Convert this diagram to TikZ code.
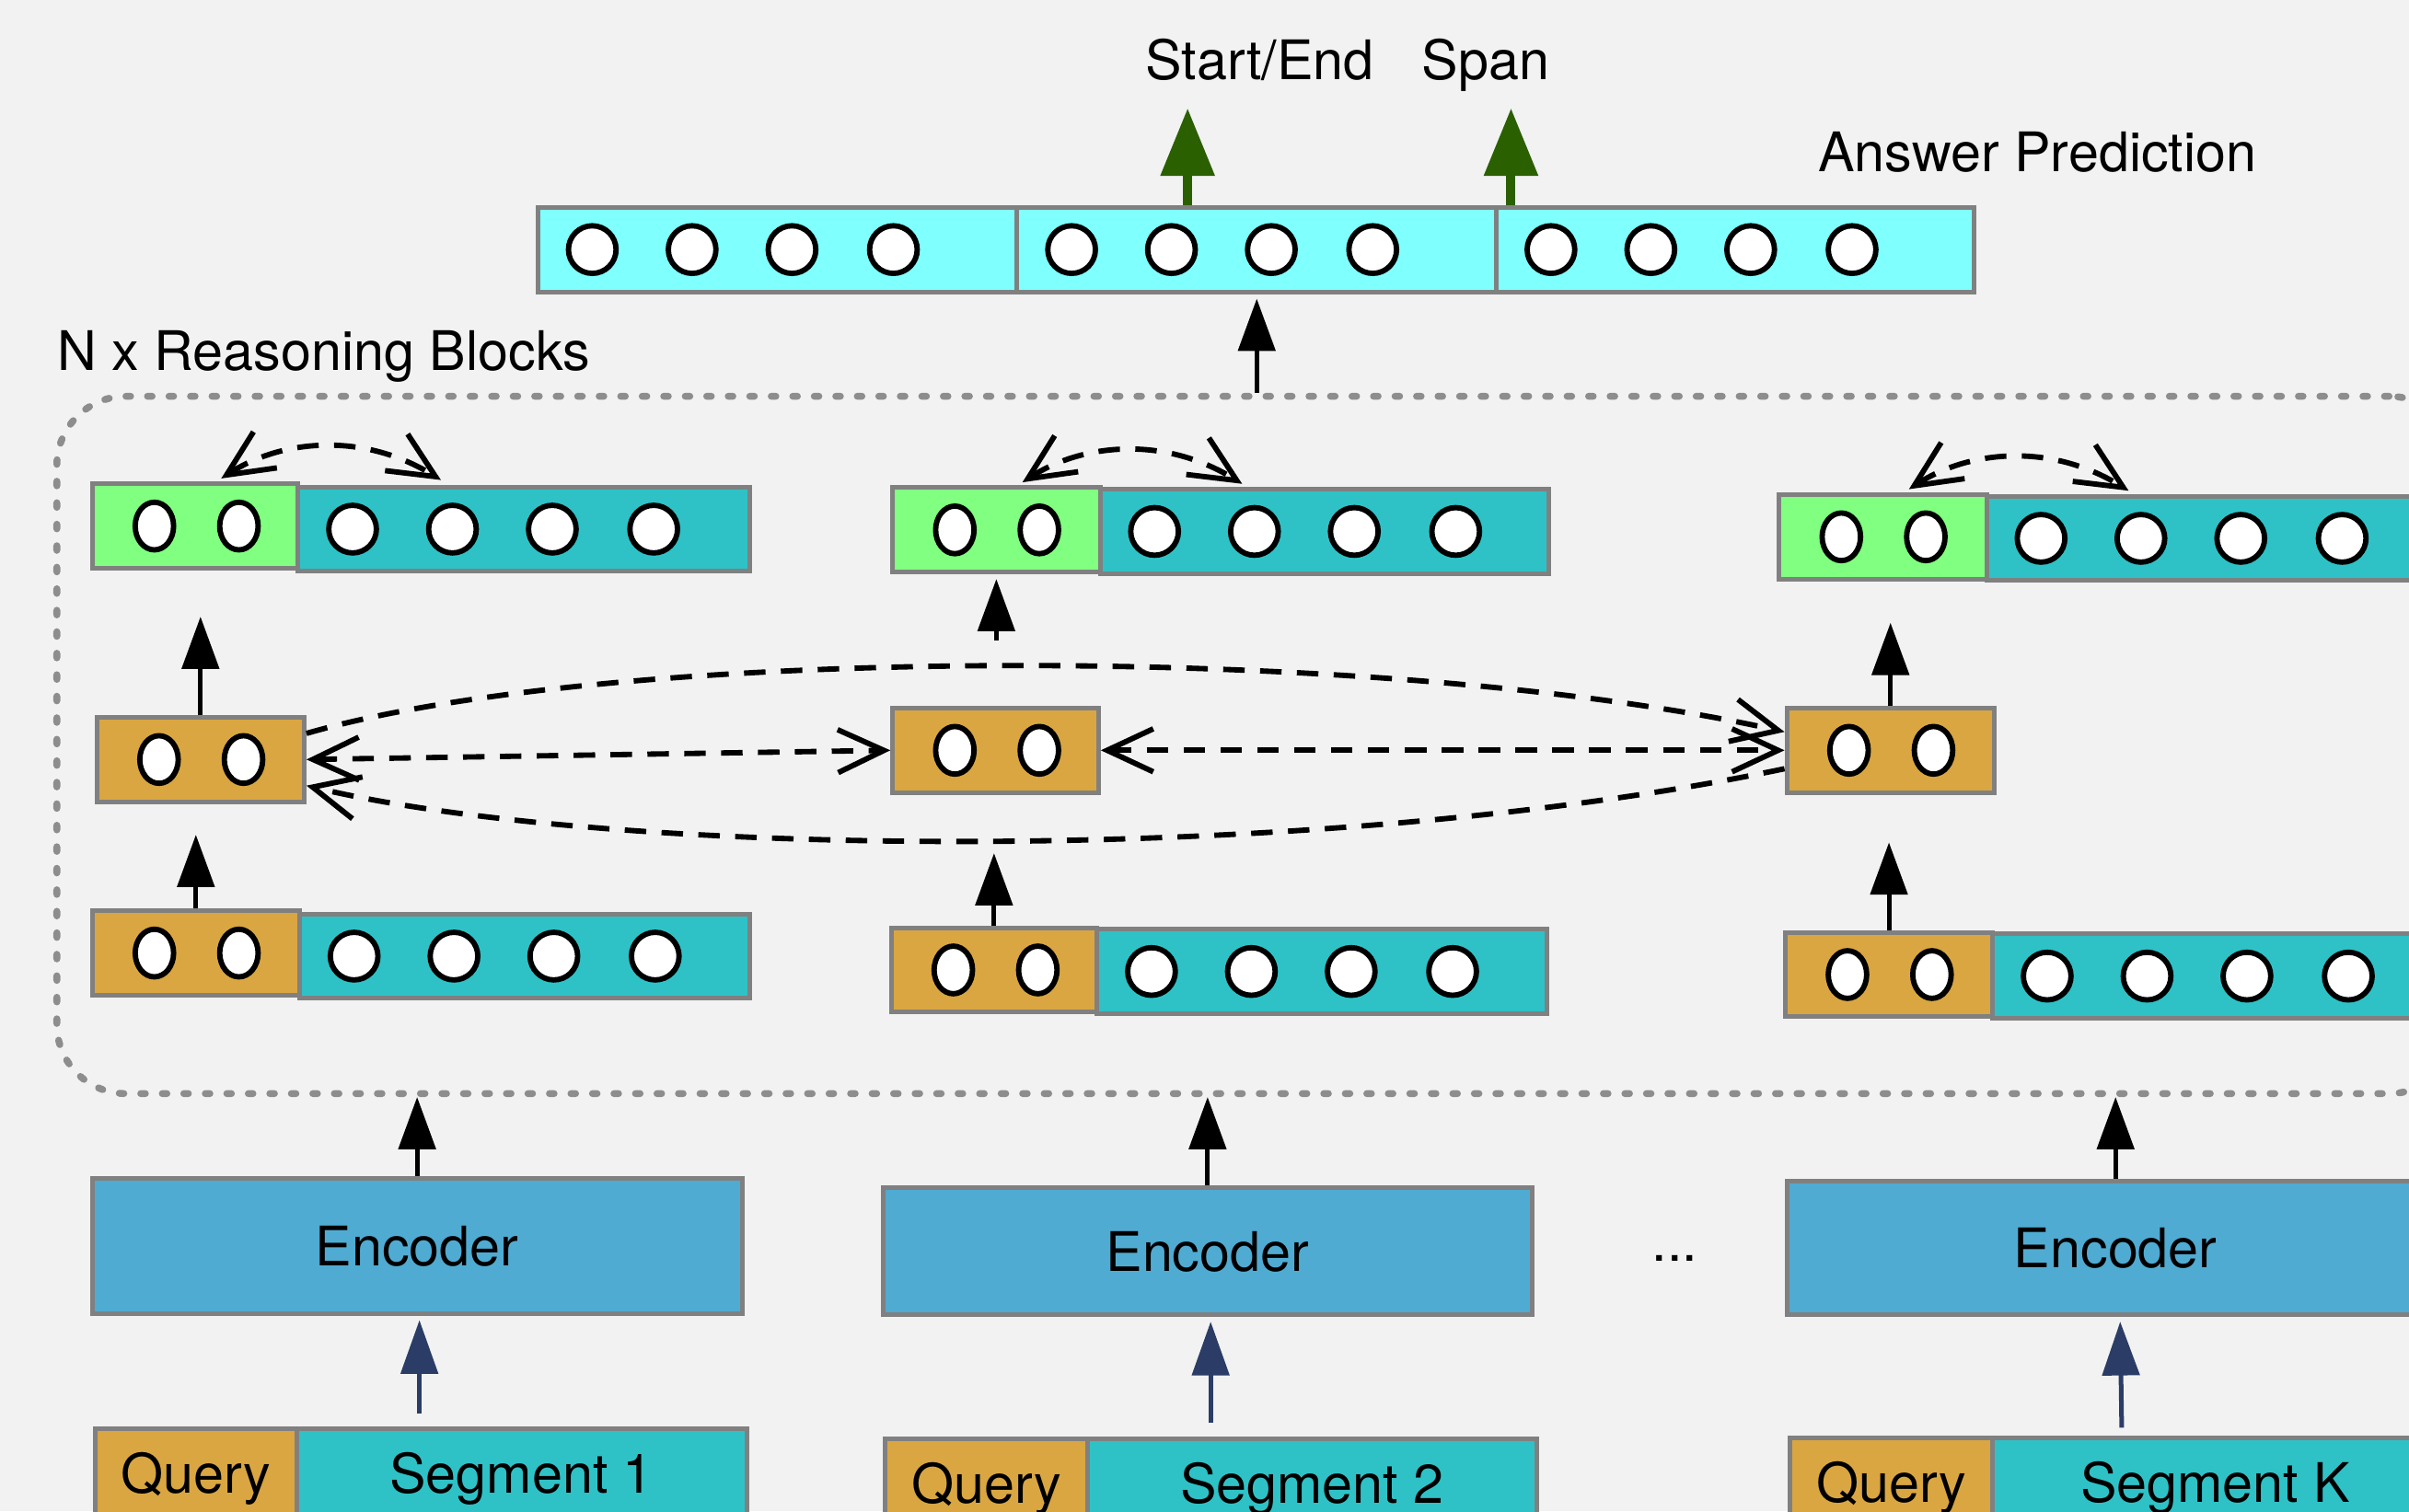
\documentclass[tikz,border=0pt]{standalone}
\usepackage{fontspec}
\setmainfont{TeX Gyre Heros}
\usetikzlibrary{arrows.meta,calc}
\definecolor{bgc}{HTML}{F2F2F2}
\definecolor{cyanbar}{HTML}{80FFFF}
\definecolor{tealc}{HTML}{2EC2C7}
\definecolor{greenc}{HTML}{80FF80}
\definecolor{orangec}{HTML}{D9A642}
\definecolor{encc}{HTML}{50ABD2}
\definecolor{bordc}{HTML}{808080}
\definecolor{arrgreen}{HTML}{2A6000}
\definecolor{navyc}{HTML}{2B3D66}
\newcommand\tokrow[3]{\foreach \o in {#2} {\draw[tok] ($(#1.west)+(\o,0)$) ellipse [x radius=#3, y radius=15.5];}}
\begin{document}
\begin{tikzpicture}[x=1pt,y=-1pt,
  box/.style={draw=bordc, line width=3pt, inner sep=0pt, minimum height=55pt},
  boxtxt/.style={font=\fontsize{35.5}{42}\selectfont, text height=30pt, text depth=4pt},
  lbl/.style={inner sep=0pt, font=\fontsize{35.5}{42}\selectfont},
  tok/.style={draw=black, fill=white, line width=3.5pt},
  blk/.style={line width=3pt, -{Triangle[length=34pt,width=24pt]}},
  nvy/.style={draw=navyc, line width=3pt, -{Triangle[length=35pt,width=24pt]}},
  grn/.style={draw=arrgreen, line width=6pt, -{Triangle[length=44pt,width=34pt]}},
  dsh/.style={line width=3.5pt, dash pattern=on 14pt off 10pt},
  barb/.tip={Straight Barb[length=30pt,width=28pt]}
]
\path[use as bounding box, fill=bgc] (0,0) rectangle (1568,984);
\clip (0,0) rectangle (1568,984);

% reasoning block frame
\node[draw=bordc!90, line width=4.5pt, dash pattern=on 3pt off 11pt, line cap=round,
      rounded corners=45pt, minimum width=1563pt, minimum height=454pt, inner sep=0pt] (rb) at (818.5,485) {};

% answer prediction bar
\node[box, fill=cyanbar, minimum width=312pt] (a1) at (506,162.5) {};
\node[box, fill=cyanbar, minimum width=312pt] (a2) at (818,162.5) {};
\node[box, fill=cyanbar, minimum width=311pt] (a3) at (1129.5,162.5) {};
\tokrow{a1}{37,102,167,233}{15.5}
\tokrow{a2}{37,102,167,233}{15.5}
\tokrow{a3}{37,102,167,233}{15.5}

% labels
\node[lbl, anchor=base] (lse) at (820,52) {Start/End};
\node[lbl, anchor=base] (lsp) at (967,52) {Span};
\node[lbl, anchor=base] (lap) at (1326,112) {Answer Prediction};
\node[lbl, anchor=base west] (lnr) at (37,241) {N x Reasoning Blocks};

% top rows
\node[box, fill=greenc, minimum width=134pt] (g1) at (127,342.5) {};
\node[box, fill=tealc, minimum width=294pt] (t1) at (341,344.5) {};
\node[box, fill=greenc, minimum width=135pt] (g2) at (648.5,345) {};
\node[box, fill=tealc, minimum width=292pt] (t2) at (862,346) {};
\node[box, fill=greenc, minimum width=135pt] (g3) at (1225.5,349.5) {};
\node[box, fill=tealc, minimum width=294pt] (t3) at (1440,350.5) {};
% middle
\node[box, fill=orangec, minimum width=135pt] (m1) at (130.5,494.5) {};
\node[box, fill=orangec, minimum width=134pt] (m2) at (648,488.5) {};
\node[box, fill=orangec, minimum width=135pt] (m3) at (1230.5,488.5) {};
% bottom rows
\node[box, fill=orangec, minimum width=135pt] (b1q) at (127.5,620.5) {};
\node[box, fill=tealc, minimum width=293pt] (b1t) at (341.5,622.5) {};
\node[box, fill=orangec, minimum width=134pt] (b2q) at (647,631.5) {};
\node[box, fill=tealc, minimum width=293pt] (b2t) at (860.5,632.5) {};
\node[box, fill=orangec, minimum width=135pt] (b3q) at (1229.5,634.5) {};
\node[box, fill=tealc, minimum width=293pt] (b3t) at (1443.5,635.5) {};

\foreach \n in {g1,g2,g3,m1,m2,m3,b1q,b2q,b3q} {\tokrow{\n}{42,97}{12.5}}
\foreach \n in {t1,t2,t3,b1t,b2t,b3t} {\tokrow{\n}{37,102,167,233}{15.5}}

% encoders
\node[box, fill=encc, minimum width=423pt, minimum height=88pt, boxtxt] (e1) at (271.5,811) {Encoder};
\node[box, fill=encc, minimum width=422pt, minimum height=83pt, boxtxt] (e2) at (786,814.5) {Encoder};
\node[box, fill=encc, minimum width=428pt, minimum height=87pt, boxtxt] (e3) at (1377,812.5) {Encoder};
\node[lbl, anchor=base] (dots) at (1090,821) {...};

% inputs
\node[box, fill=orangec, minimum width=131pt, minimum height=58pt, boxtxt] (q1) at (127.5,959) {Query};
\node[box, fill=tealc, minimum width=293pt, minimum height=58pt, boxtxt] (s1) at (339.5,959) {Segment 1};
\node[box, fill=orangec, minimum width=132pt, minimum height=58pt, boxtxt] (q2) at (642,966) {Query};
\node[box, fill=tealc, minimum width=292pt, minimum height=58pt, boxtxt] (s2) at (854,966) {Segment 2};
\node[box, fill=orangec, minimum width=132pt, minimum height=58pt, boxtxt] (q3) at (1231,965) {Query};
\node[box, fill=tealc, minimum width=290pt, minimum height=58pt, boxtxt] (s3) at (1442,965) {Segment K};

% arrows: inputs -> encoders
\draw[nvy] ($(e1.south |- s1.north)+(1.5,-8)$) -- ($(e1.south)+(1.5,3)$);
\draw[nvy] ($(e2.south |- s2.north)+(2,-9)$) -- ($(e2.south)+(2,3)$);
\draw[nvy] ($(e3.south |- s3.north)+(4,-5)$) -- ($(e3.south)+(3,3)$);
% encoders -> reasoning block
\draw[blk] (e1.north) -- (e1.north |- rb.south);
\draw[blk] (e2.north) -- (e2.north |- rb.south);
\draw[blk] (e3.north) -- (e3.north |- rb.south);
% within blocks
\draw[blk] (b1q.north) -- ++(0,-48);
\draw[blk] (b2q.north) -- ++(0,-47);
\draw[blk] (b3q.north) -- ++(0,-57);
\draw[blk] (m1.north) -- ++(0,-64);
\draw[blk] ($(g2.south)+(0,43)$) -- ($(g2.south)+(0,3)$);
\draw[blk] (m3.north) -- ++(0,-54);
% block -> answer
\draw[blk] (a2.south |- rb.north) -- ($(a2.south)+(0,3)$);
\draw[grn] ($(a2.north)+(-45,0)$) -- ++(0,-63);
\draw[grn] ($(a3.north west)+(11,0)$) -- ++(0,-63);

% curved arrows above the top rows
\foreach \g in {g1,g2,g3} {
  \draw[dsh, {barb}-{barb}] ($(\g.north)+(17,-2)$) .. controls ($(\g.north)+(57,-28)$) and ($(\g.north)+(110,-32)$) .. ($(\g.north)+(160,-1)$);
}
% interactions between middle boxes
\draw[dsh, {barb}-{barb}] (m1.east) -- (m2.west);
\draw[dsh, {barb}-{barb}] (m2.east) -- (m3.west);
\draw[dsh, -{barb}] ($(m1.east)+(0,-17)$) .. controls ($(m1.east)+(200,-75)$) and ($(m3.west)+(-260,-70)$) .. ($(m3.west)+(0,-12)$);
\draw[dsh, -{barb}] ($(m3.west)+(0,12)$) .. controls ($(m3.west)+(-300,75)$) and ($(m1.east)+(200,65)$) .. ($(m1.east)+(0,17)$);
\end{tikzpicture}
\end{document}
